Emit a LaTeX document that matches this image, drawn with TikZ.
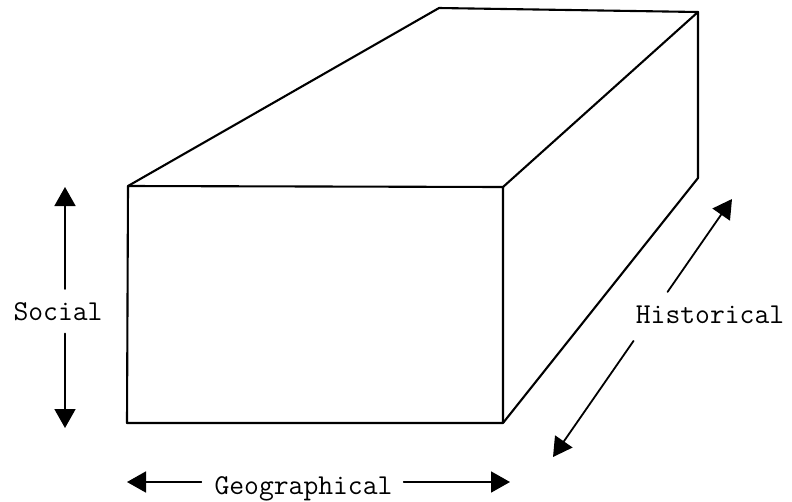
\documentclass[tikz,border=0pt]{standalone}
\usetikzlibrary{arrows.meta, calc}
\tikzset{
  >={Triangle[length=19pt, width=21pt]},
  every picture/.style={line cap=round, line join=round},
  edge/.style={line width=2.1pt},
  axis/.style={->, line width=1.8pt},
  lbl/.style={font=\fontsize{28.8}{30}\selectfont\ttfamily, inner sep=0pt, anchor=base},
}
\begin{document}
\begin{tikzpicture}[x=1pt, y=-1pt]
  \useasboundingbox (0,0) rectangle (792,501);
  % ---------- the block
  \coordinate (A) at (128,186);   % front face, top left
  \coordinate (B) at (503,187);
  \coordinate (C) at (503,423);
  \coordinate (D) at (127,423);
  \coordinate (E) at (439,8);     % back, top left
  \coordinate (F) at (698,12);
  \coordinate (G) at (698,178);
  \draw[edge] (A) -- (B) -- (C) -- (D) -- cycle;
  \draw[edge] (A) -- (E) -- (F) -- (B);
  \draw[edge] (F) -- (G) -- (C);
  % ---------- the three directions
  \node[lbl] (social) at (58,320) {Social};
  \coordinate (Stop) at (65,187);
  \coordinate (Sbot) at (65,428);
  \draw[axis] ([yshift=13pt]social.north -| Stop) -- (Stop);
  \draw[axis] ([yshift=-13pt]social.south -| Sbot) -- (Sbot);
  \node[lbl] (geo) at (303.5,494) {Geographical};
  \coordinate (Gl) at (127,482);
  \coordinate (Gr) at (510,482);
  \draw[axis] ([xshift=-13pt]geo.west |- Gl) -- (Gl);
  \draw[axis] ([xshift=11pt]geo.east |- Gr) -- (Gr);
  \node[lbl] (hist) at (710,323) {Historical};
  \coordinate (Hup) at (732,199);
  \coordinate (Hdn) at (553,457);
  \draw[axis] ($(Hdn)!0.64!(Hup)$) -- (Hup);
  \draw[axis] ($(Hdn)!0.45!(Hup)$) -- (Hdn);
\end{tikzpicture}
\end{document}
